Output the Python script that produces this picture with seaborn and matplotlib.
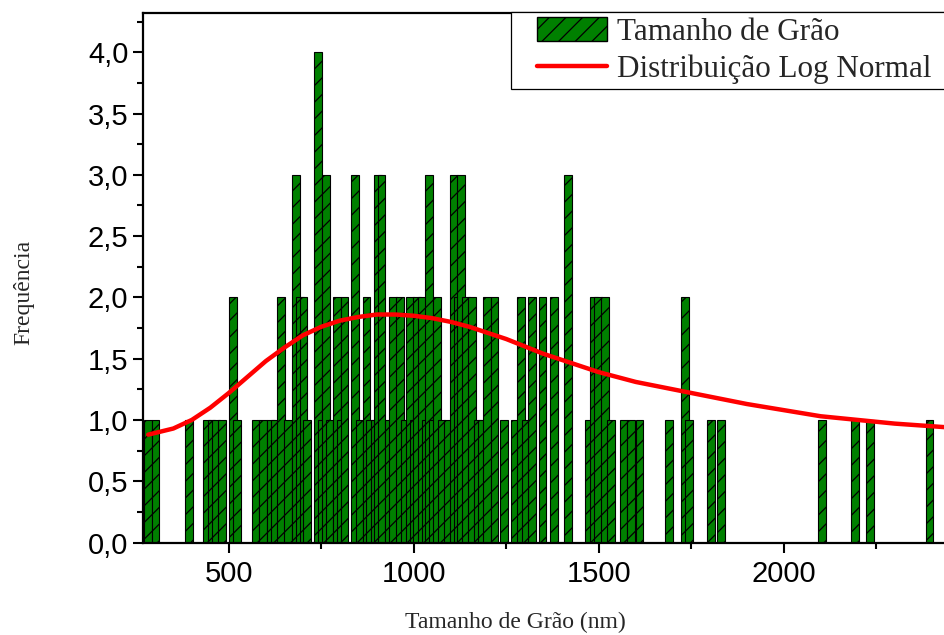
import numpy as np
import pandas as pd
import matplotlib
matplotlib.use("Agg")
import matplotlib.pyplot as plt
import seaborn as sns
from matplotlib.patches import Patch, Rectangle
from matplotlib.lines import Line2D
from matplotlib.legend_handler import HandlerPatch, HandlerLine2D
from matplotlib.ticker import MultipleLocator, FixedLocator, FixedFormatter

# ---------------- data ----------------
grain_size_nm = [281, 302, 392, 442, 453, 465, 482, 511, 523, 572, 592, 613, 625,
                 642, 660, 682, 692, 702, 712, 742, 752, 763, 772, 793, 802, 813,
                 842, 853, 872, 882, 894, 903, 913, 934, 944, 963, 975, 990, 1000,
                 1008, 1022, 1032, 1042, 1052, 1062, 1075, 1092, 1108, 1118, 1128,
                 1142, 1157, 1173, 1185, 1198, 1218, 1243, 1273, 1289, 1302, 1319,
                 1348, 1379, 1417, 1473, 1487, 1497, 1517, 1533, 1567, 1587, 1610,
                 1690, 1733, 1743, 1803, 1830, 2104, 2193, 2233, 2394]
frequency = [1, 1, 1, 1, 1, 1, 1, 2, 1, 1, 1, 1, 1,
             2, 1, 3, 2, 2, 1, 4, 1, 3, 1, 2, 1, 2,
             3, 1, 2, 1, 1, 3, 3, 1, 2, 2, 1, 2, 1,
             2, 2, 1, 3, 1, 2, 1, 1, 3, 2, 3,
             2, 2, 1, 1, 2, 2, 1, 1, 2, 1, 2,
             2, 2, 3, 1, 2, 2, 2, 1, 1, 1, 1,
             1, 2, 1, 1, 1, 1, 1, 1, 1]

# log-normal curve, values
curve_x = [282, 350, 400, 450, 500, 550, 600, 650, 700, 750, 800, 850, 900, 950,
           1000, 1050, 1100, 1150, 1200, 1250, 1300, 1350, 1400, 1450, 1500, 1600,
           1700, 1800, 1900, 2000, 2100, 2200, 2300, 2440]
curve_y = [0.88, 0.93, 1.00, 1.10, 1.22, 1.35, 1.48, 1.59, 1.69, 1.76, 1.81, 1.84,
           1.86, 1.86, 1.85, 1.83, 1.80, 1.76, 1.71, 1.66, 1.60, 1.54, 1.49, 1.44,
           1.39, 1.31, 1.25, 1.19, 1.13, 1.08, 1.03, 1.00, 0.97, 0.94]

x_ticks = [500, 1000, 1500, 2000]
x_tick_labels = ["500", "1000", "1500", "2000"]
y_ticks = [0.0, 0.5, 1.0, 1.5, 2.0, 2.5, 3.0, 3.5, 4.0]
y_tick_labels = ["0,0", "0,5", "1,0", "1,5", "2,0", "2,5", "3,0", "3,5", "4,0"]

bar_label = "Tamanho de Grão"
curve_label = "Distribuição Log Normal"
x_label = "Tamanho de Grão (nm)"
y_label = "Frequência"

# ---------------- style ----------------
sns.set_theme(style="ticks")
plt.rcParams["font.family"] = ["Liberation Sans", "DejaVu Sans"]
plt.rcParams["hatch.linewidth"] = 0.9
SERIF = ["Liberation Serif", "DejaVu Serif"]
GREEN = "#008000"
RED = "#ff0000"

W, H = 945, 635
fig = plt.figure(figsize=(W / 100, H / 100), dpi=100)
ax_left, ax_right = 143 / W, 1.0
ax_bottom, ax_top = 1 - 542.5 / H, 1 - 13 / H
ax = fig.add_axes([ax_left, ax_bottom, ax_right - ax_left, ax_top - ax_bottom])

df = pd.DataFrame({"size": grain_size_nm, "freq": frequency})
BAR_WIDTH_NM = 21.0
min_gap = np.min(np.diff(np.sort(np.unique(df["size"].values))))
sns.barplot(data=df, x="size", y="freq", native_scale=True, orient="x",
            width=BAR_WIDTH_NM / min_gap, color=GREEN, saturation=1,
            edgecolor="black", linewidth=0.8, hatch="//", errorbar=None, ax=ax)

curve_df = pd.DataFrame({"x": curve_x, "y": curve_y})
sns.lineplot(data=curve_df, x="x", y="y", color=RED, linewidth=3.2,
             sort=False, ax=ax, zorder=5)

ax.set_xlim(268, 2436)
ax.set_ylim(0, 4.32)

ax.xaxis.set_major_locator(FixedLocator(x_ticks))
ax.xaxis.set_major_formatter(FixedFormatter(x_tick_labels))
ax.xaxis.set_minor_locator(MultipleLocator(250))
ax.yaxis.set_major_locator(FixedLocator(y_ticks))
ax.yaxis.set_major_formatter(FixedFormatter(y_tick_labels))
ax.yaxis.set_minor_locator(MultipleLocator(0.25))

ax.tick_params(axis="both", which="major", direction="out", length=7.5, width=1.5,
               labelsize=21, color="black", labelcolor="black")
ax.tick_params(axis="both", which="minor", direction="out", length=4, width=1.5,
               color="black")
ax.tick_params(axis="x", which="major", pad=5)
ax.tick_params(axis="y", which="major", pad=3)
ax.tick_params(top=False, right=False, which="both")

for side in ["left", "bottom", "top"]:
    ax.spines[side].set_visible(True)
    ax.spines[side].set_linewidth(1.6)
    ax.spines[side].set_color("black")
ax.spines["right"].set_visible(False)

ax.set_xlabel(x_label, fontsize=17, family=SERIF)
ax.set_ylabel(y_label, fontsize=17, family=SERIF)
ax.xaxis.set_label_coords(0.464, -0.131)
ax.yaxis.set_label_coords(-0.135, 0.473)

# ---------------- legend ----------------
LEG_FS = 22.4
LEG_PX = LEG_FS * 100 / 72
BORDER_PX = 5.0
HANDLE_PX = 537 - 511 - BORDER_PX + 70      # lead-in + visible handle
LEAD = (537 - 511 - BORDER_PX) / HANDLE_PX


def shifted_patch(legend, orig_handle, xdescent, ydescent, width, height, fontsize):
    off = width * LEAD
    return Rectangle((-xdescent + off, -ydescent), width - off, height)


class ShiftedLine(HandlerLine2D):
    def get_xdata(self, legend, xdescent, ydescent, width, height, fontsize):
        off = width * LEAD
        return ([-xdescent + off, -xdescent + width],
                [-xdescent + off + 0.5 * (width - off)])


bar_handle = Patch(facecolor=GREEN, edgecolor="black", hatch="//", linewidth=1.0)
line_handle = Line2D([0], [0], color=RED, linewidth=3.2)
leg = fig.legend([bar_handle, line_handle], [bar_label, curve_label],
                 loc="upper left",
                 bbox_to_anchor=(511 / W, 1 - 12 / H, (960 - 511) / W, 0),
                 bbox_transform=fig.transFigure, mode="expand",
                 handler_map={bar_handle: HandlerPatch(patch_func=shifted_patch),
                              line_handle: ShiftedLine()},
                 prop={"family": SERIF, "size": LEG_FS},
                 frameon=True, fancybox=False, shadow=False, framealpha=1,
                 edgecolor="black", borderaxespad=0, borderpad=BORDER_PX / LEG_PX,
                 handlelength=HANDLE_PX / LEG_PX, handleheight=0.8,
                 handletextpad=10 / LEG_PX, labelspacing=0.24)
leg.get_frame().set_linewidth(0.9)

fig.savefig("out.png", dpi=100)
